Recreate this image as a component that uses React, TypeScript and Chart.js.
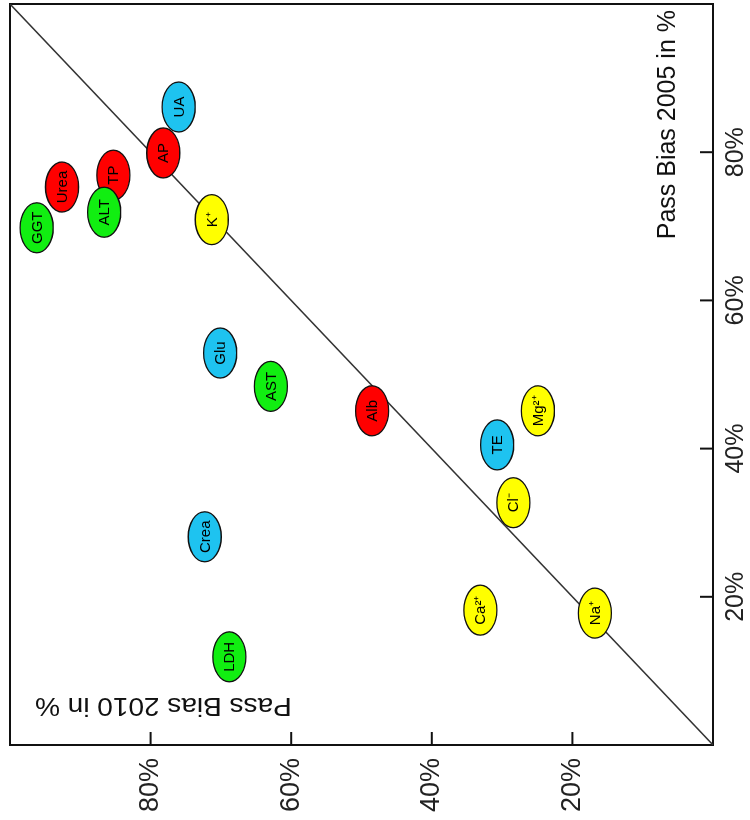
import React, { useEffect, useRef } from 'react';
import { Chart, registerables } from 'chart.js';

Chart.register(...registerables);

// Analytes (labels inside the ellipses)
const analytes = ['Urea', 'TP', 'GGT', 'ALT', 'AP', 'UA', 'K⁺', 'Glu', 'AST', 'Crea', 'LDH', 'Alb', 'TE', 'Mg²⁺', 'Cl⁻', 'Ca²⁺', 'Na⁺'];
// Pass Bias 2005 in %
const pass2005 = [75.3, 76.9, 69.8, 71.9, 79.9, 86.1, 70.9, 52.9, 48.4, 28.1, 11.9, 45.1, 40.5, 45.1, 32.7, 18.2, 17.8];
// Pass Bias 2010 in %
const pass2010 = [92.6, 85.3, 96.2, 86.6, 78.2, 76.0, 71.3, 70.1, 62.9, 72.3, 68.8, 48.5, 30.7, 24.9, 28.4, 33.1, 16.8];
// Group colour for each analyte
const groupColors = ['#ff0000', '#ff0000', '#11ee11', '#11ee11', '#ff0000', '#1ec3f0', '#ffff00', '#1ec3f0', '#11ee11', '#1ec3f0', '#11ee11', '#ff0000', '#1ec3f0', '#ffff00', '#ffff00', '#ffff00', '#ffff00'];
// Axis ticks
const tickValues = [20, 40, 60, 80];
// Identity line
const identityLine = [{ x: 0, y: 0 }, { x: 100, y: 100 }];
const xTitle = 'Pass Bias 2005 in %';
const yTitle = 'Pass Bias 2010 in %';

const FONT = '"Liberation Sans", Arial, Helvetica, sans-serif';

export default function App() {
  const ref = useRef<HTMLCanvasElement>(null);

  useEffect(() => {
    const canvas = ref.current;
    if (!canvas) return;

    const framePlugin = {
      id: 'frame',
      beforeDatasetsDraw(chart: any) {
        const { ctx, chartArea: a, scales } = chart;
        ctx.save();
        ctx.strokeStyle = '#111';
        ctx.lineWidth = 2;
        ctx.strokeRect(a.left, a.top, a.right - a.left, a.bottom - a.top);
        // inward tick marks
        tickValues.forEach((v) => {
          const px = scales.x.getPixelForValue(v);
          ctx.beginPath();
          ctx.moveTo(px, a.bottom);
          ctx.lineTo(px, a.bottom - 13);
          ctx.stroke();
          const py = scales.y.getPixelForValue(v);
          ctx.beginPath();
          ctx.moveTo(a.left, py);
          ctx.lineTo(a.left + 13, py);
          ctx.stroke();
        });
        // titles inside plot
        ctx.fillStyle = '#111';
        ctx.font = `25px ${FONT}`;
        ctx.textAlign = 'right';
        ctx.textBaseline = 'alphabetic';
        ctx.fillText(xTitle, a.right - 6, a.bottom - 38);
        ctx.translate(a.left + 47, a.top + 25);
        ctx.rotate(-Math.PI / 2);
        ctx.scale(1.12, 1);
        ctx.fillText(yTitle, 0, 0);
        ctx.restore();
      },
    };

    const ellipsePlugin = {
      id: 'ellipses',
      afterDatasetsDraw(chart: any) {
        const meta = chart.getDatasetMeta(1);
        const ctx = chart.ctx;
        ctx.save();
        meta.data.forEach((el: any, i: number) => {
          ctx.beginPath();
          ctx.ellipse(el.x, el.y, 25, 16.5, 0, 0, Math.PI * 2);
          ctx.fillStyle = groupColors[i];
          ctx.fill();
          ctx.lineWidth = 1.3;
          ctx.strokeStyle = '#111';
          ctx.stroke();
          ctx.fillStyle = '#000';
          ctx.font = `15px ${FONT}`;
          ctx.textAlign = 'center';
          ctx.textBaseline = 'middle';
          ctx.fillText(analytes[i], el.x, el.y + 1);
        });
        ctx.restore();
      },
    };

    const chart = new Chart(canvas, {
      type: 'scatter',
      data: {
        datasets: [
          {
            type: 'line',
            data: identityLine,
            showLine: true,
            borderColor: '#333',
            borderWidth: 1.6,
            pointRadius: 0,
            fill: false,
          } as any,
          {
            data: analytes.map((_, i) => ({ x: pass2005[i], y: pass2010[i] })),
            pointRadius: 0,
            pointHoverRadius: 0,
          },
        ],
      },
      options: {
        responsive: false,
        animation: false,
        events: [],
        layout: { padding: { top: 10, right: 4, left: 0, bottom: 0 } },
        plugins: { legend: { display: false }, tooltip: { enabled: false } },
        scales: {
          x: {
            type: 'linear',
            min: 0,
            max: 100,
            grid: { display: false, drawTicks: false },
            border: { display: false },
            ticks: {
              font: { size: 25, family: FONT },
              color: '#222',
              padding: 8,
              maxRotation: 0,
              autoSkip: false,
              callback: (v: any) => `${v}%`,
            },
            afterBuildTicks: (s: any) => {
              s.ticks = tickValues.map((v) => ({ value: v }));
            },
            afterFit: (s: any) => {
              s.height = 37;
              s.paddingLeft = 0;
              s.paddingRight = 0;
            },
          },
          y: {
            type: 'linear',
            min: 0,
            max: 100,
            grid: { display: false, drawTicks: false },
            border: { display: false },
            ticks: {
              font: { size: 27, family: FONT },
              color: '#222',
              padding: 13,
              autoSkip: false,
              callback: (v: any) => `${v}%`,
            },
            afterBuildTicks: (s: any) => {
              s.ticks = tickValues.map((v) => ({ value: v }));
            },
            afterFit: (s: any) => {
              s.width = 75;
              s.paddingTop = 0;
              s.paddingBottom = 0;
            },
          },
        },
      },
      plugins: [framePlugin, ellipsePlugin],
    });

    return () => chart.destroy();
  }, []);

  return (
    <div
      style={{
        position: 'fixed',
        left: 0,
        top: 0,
        width: 750,
        height: 820,
        overflow: 'hidden',
        background: '#fff',
      }}
    >
      <canvas
        ref={ref}
        width={820}
        height={750}
        style={{
          position: 'absolute',
          left: 0,
          top: 0,
          width: 820,
          height: 750,
          transform: 'translate(0px, 820px) rotate(-90deg)',
          transformOrigin: '0 0',
        }}
      />
    </div>
  );
}
